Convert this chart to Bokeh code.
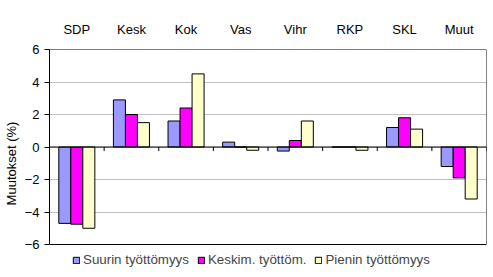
from bokeh.plotting import figure
from bokeh.models import (ColumnDataSource, FactorRange, Range1d, FixedTicker, Span,
                          Legend, LegendItem)
from bokeh.transform import dodge
from bokeh.embed import file_html
from bokeh.resources import INLINE

cats = ["SDP", "Kesk", "Kok", "Vas", "Vihr", "RKP", "SKL", "Muut"]
suurin = [-4.7, 2.9, 1.6, 0.3, -0.25, 0.0, 1.2, -1.2]
keskim = [-4.75, 2.0, 2.4, 0.0, 0.4, 0.0, 1.8, -1.9]
pienin = [-5.0, 1.5, 4.5, -0.2, 1.6, -0.2, 1.1, -3.2]
series_names = ["Suurin työttömyys", "Keskim. työttöm.", "Pienin työttömyys"]
y_ticks = [-6, -4, -2, 0, 2, 4, 6]

FONT = "Liberation Sans"
colors = ["#9999FF", "#FF00FF", "#FFFFCC"]
fields = ["suurin", "keskim", "pienin"]

src = ColumnDataSource(dict(cat=cats, suurin=suurin, keskim=keskim, pienin=pienin,
                            y0=[0] * len(cats), y1=[-0.25] * len(cats)))

# the frame reaches the bottom of the page so the legend can sit under the plot box;
# the plot box itself is drawn from -6 to 6
ymin, ymax = y_ticks[0], y_ticks[-1]
legend_room = (ymax - ymin) * 33 / 195
p = figure(width=493, height=277, x_range=FactorRange(factors=cats, range_padding=0),
           y_range=Range1d(ymin - legend_room, ymax), x_axis_location="above",
           output_backend="svg", toolbar_location=None,
           min_border_left=48, min_border_right=7, min_border_top=49, min_border_bottom=0)
p.background_fill_color = "white"
p.border_fill_color = "white"
p.outline_line_color = None

p.xgrid.grid_line_color = None
p.ygrid.grid_line_color = "#C0C0C0"
p.ygrid.ticker = FixedTicker(ticks=y_ticks[1:-1])

bw = 0.22
renderers = []
for i, (f, c) in enumerate(zip(fields, colors)):
    r = p.vbar(x=dodge("cat", (i - 1) * bw, range=p.x_range), top=f, bottom=0, width=bw,
               source=src, fill_color=c, line_color="black", line_width=1)
    renderers.append(r)

# plot box: top, bottom, zero line and right edge
for loc in (ymin, 0, ymax):
    p.add_layout(Span(location=loc, dimension="width", line_color="black", line_width=1))
edge = ColumnDataSource(dict(cat=[cats[-1]], y0=[ymin], y1=[ymax]))
p.segment(x0=dodge("cat", 0.5, range=p.x_range), x1=dodge("cat", 0.5, range=p.x_range),
          y0="y0", y1="y1", source=edge, line_color="black", line_width=1)
# category tick marks below the zero line
p.segment(x0=dodge("cat", 0.5, range=p.x_range), x1=dodge("cat", 0.5, range=p.x_range),
          y0="y0", y1="y1", source=src, line_color="black", line_width=1)

# y axis
ya = p.yaxis[0]
ya.ticker = FixedTicker(ticks=y_ticks)
ya.bounds = (ymin, ymax)
ya.minor_tick_line_color = None
ya.major_tick_in = 0
ya.major_tick_out = 5
ya.axis_line_color = "black"
ya.major_label_text_font = FONT
ya.major_label_text_font_size = "13px"
ya.major_label_text_color = "black"
ya.major_label_standoff = 5
ya.axis_label = "Muutokset (%)"
ya.axis_label_text_font = FONT
ya.axis_label_text_font_size = "13px"
ya.axis_label_text_font_style = "normal"
ya.axis_label_text_color = "black"
ya.axis_label_standoff = 3

# top category axis
xa = p.xaxis[0]
xa.axis_line_color = None
xa.major_tick_line_color = None
xa.minor_tick_line_color = None
xa.major_label_text_font = FONT
xa.major_label_text_font_size = "13px"
xa.major_label_text_color = "black"
xa.major_label_standoff = 7

legend = Legend(items=[LegendItem(label=n, renderers=[r]) for n, r in zip(series_names, renderers)],
                orientation="horizontal", location=(23, 10),
                glyph_width=8, glyph_height=8, label_standoff=3, spacing=8,
                padding=0, margin=0, label_height=14,
                label_text_font=FONT, label_text_font_size="13.33px",
                border_line_color=None, background_fill_alpha=0)
p.add_layout(legend, "center")

open("out.html", "w").write(file_html(p, INLINE))
